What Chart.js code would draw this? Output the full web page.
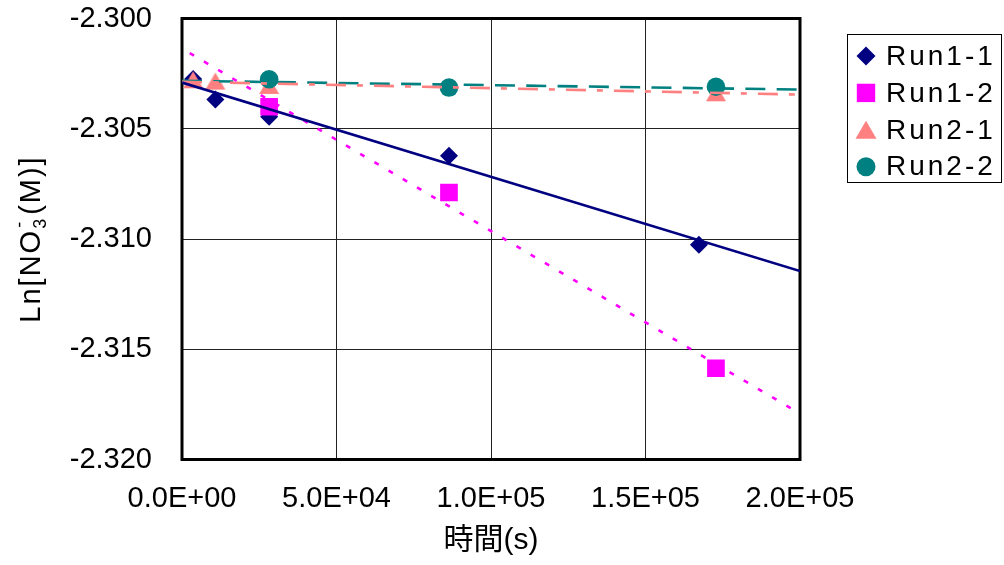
<!DOCTYPE html>
<html><head><meta charset="utf-8">
<script src="https://cdn.jsdelivr.net/npm/chart.js@4"></script>
<style>html,body{margin:0;padding:0;background:#fff}#wrap{width:1004px;height:565px}</style>
</head><body><div id="wrap"><canvas id="c" width="1004" height="565"></canvas></div>
<script>
// ---- data ----
const seriesNames = ['Run1-1', 'Run1-2', 'Run2-1', 'Run2-2'];
const run11Time = [3600, 10800, 28200, 86400, 167300];
const run11Ln   = [-2.302747, -2.303676, -2.304456, -2.306224, -2.310258];
const run12Time = [28200, 86400, 172800];
const run12Ln   = [-2.304003, -2.307892, -2.315861];
const run21Time = [3600, 10800, 28200, 172800];
const run21Ln   = [-2.302779, -2.302838, -2.303033, -2.303368];
const run22Time = [28200, 86400, 172800];
const run22Ln   = [-2.302756, -2.303132, -2.303096];
// trend lines (start / end)
const trend11Time = [0, 200000];
const trend11Ln   = [-2.302906, -2.311451];
const trend12Time = [2500, 200000];
const trend12Ln   = [-2.301568, -2.317920];
const trend21Time = [0, 200000];
const trend21Ln   = [-2.302869, -2.303450];
const trend22Time = [0, 200000];
const trend22Ln   = [-2.302824, -2.303223];
// ticks
const xTickValues = [0, 50000, 100000, 150000, 200000];
const xTickLabels = ['0.0E+00', '5.0E+04', '1.0E+05', '1.5E+05', '2.0E+05'];
const yTickValues = [-2.320, -2.315, -2.310, -2.305, -2.300];
const yTickLabels = ['-2.320', '-2.315', '-2.310', '-2.305', '-2.300'];
const xTitle = '時間(s)';

// ---- styles ----
const colors = ['#000080', '#FF00FF', '#FF8080', '#008080'];
const radii  = [9, 12.5, 11, 9.3];
const trendDash = [[], [5, 11.5], [20, 11, 6, 11], [20, 11.3]];
const FONT = "'Liberation Sans', Arial, sans-serif";

// triangle marker centred on its bounding box (as in the reference)
function triangleImage(color, w, h) {
  const c = document.createElement('canvas');
  c.width = Math.ceil(w) + 2; c.height = Math.ceil(h) + 2;
  const g = c.getContext('2d');
  const cx = c.width / 2, cy = c.height / 2;
  g.fillStyle = color;
  g.beginPath();
  g.moveTo(cx, cy - h / 2); g.lineTo(cx + w / 2, cy + h / 2); g.lineTo(cx - w / 2, cy + h / 2);
  g.closePath(); g.fill();
  return c;
}
const shapes = ['rectRot', 'rect', triangleImage(colors[2], 20, 17), 'circle'];

function pts(xs, ys) { return xs.map((x, i) => ({ x: x, y: ys[i] })); }

const markerSets = [
  pts(run11Time, run11Ln), pts(run12Time, run12Ln),
  pts(run21Time, run21Ln), pts(run22Time, run22Ln)
];
const trendSets = [
  pts(trend11Time, trend11Ln), pts(trend12Time, trend12Ln),
  pts(trend21Time, trend21Ln), pts(trend22Time, trend22Ln)
];

const datasets = [];
for (let i = 0; i < 4; i++) {
  datasets.push({
    label: seriesNames[i] + ' trend', data: trendSets[i], showLine: true,
    borderColor: colors[i], borderWidth: 2.6, borderDash: trendDash[i],
    pointRadius: 0, pointHoverRadius: 0, fill: false, order: 0
  });
}
for (let i = 0; i < 4; i++) {
  datasets.push({
    label: seriesNames[i], data: markerSets[i], showLine: false,
    pointStyle: shapes[i], pointRadius: radii[i], pointHoverRadius: radii[i],
    backgroundColor: colors[i], borderColor: colors[i], borderWidth: 0,
    order: 4 - i
  });
}

function drawMarker(ctx, style, x, y, r, color) {
  ctx.save();
  ctx.fillStyle = color;
  ctx.beginPath();
  if (style === 'rectRot') {
    ctx.moveTo(x, y - r); ctx.lineTo(x + r, y); ctx.lineTo(x, y + r); ctx.lineTo(x - r, y);
  } else if (style === 'rect') {
    const h = r * Math.SQRT1_2; ctx.rect(x - h, y - h, 2 * h, 2 * h);
  } else if (style === 'circle') {
    ctx.arc(x, y, r, 0, Math.PI * 2);
  } else {
    ctx.moveTo(x, y - 9); ctx.lineTo(x + 10.5, y + 9); ctx.lineTo(x - 10.5, y + 9);
  }
  ctx.closePath(); ctx.fill();
  ctx.restore();
}

const decorPlugin = {
  id: 'decor',
  beforeDatasetsDraw(chart) {
    const { ctx, chartArea: a } = chart;
    ctx.save();
    ctx.strokeStyle = '#000'; ctx.lineWidth = 3;
    ctx.strokeRect(a.left, a.top, a.right - a.left, a.bottom - a.top);
    ctx.restore();
  },
  afterDraw(chart) {
    const { ctx, chartArea: a } = chart;
    // x title
    ctx.save();
    ctx.fillStyle = '#000';
    ctx.font = "30px 'Liberation Sans', 'Noto Sans CJK JP', sans-serif";
    ctx.textAlign = 'center'; ctx.textBaseline = 'middle';
    ctx.fillText(xTitle, (a.left + a.right) / 2, 541);
    ctx.restore();
    // y title with subscript / superscript
    ctx.save();
    ctx.translate(30, (a.top + a.bottom) / 2);
    ctx.rotate(-Math.PI / 2);
    ctx.fillStyle = '#000';
    ctx.textBaseline = 'alphabetic';
    ctx.letterSpacing = '2px';
    const big = '29px ' + FONT, small = '18px ' + FONT;
    const texts = ['Ln[NO', '3', '-', '(M)]'];
    const fonts = [big, small, small, big];
    const widths = texts.map((t, i) => { ctx.font = fonts[i]; return ctx.measureText(t).width; });
    const total = widths[0] + Math.max(widths[1], widths[2]) + 2 + widths[3];
    let x = -total / 2;
    const base = 10;
    ctx.font = big; ctx.fillText(texts[0], x, base); x += widths[0];
    ctx.font = small; ctx.fillText(texts[1], x, base + 6);
    ctx.fillText(texts[2], x + 1, base - 15);
    x += Math.max(widths[1], widths[2]) + 2;
    ctx.font = big; ctx.fillText(texts[3], x, base);
    ctx.restore();
    // legend
    ctx.save();
    ctx.strokeStyle = '#000'; ctx.lineWidth = 1;
    ctx.strokeRect(847.5, 34.5, 154, 148);
    ctx.font = '28px ' + FONT;
    ctx.letterSpacing = '3px';
    ctx.textAlign = 'left'; ctx.textBaseline = 'middle';
    for (let i = 0; i < 4; i++) {
      const ds = chart.data.datasets.find(d => d.label === seriesNames[i]);
      const yy = 56 + i * 36.9;
      const st = typeof ds.pointStyle === 'string' ? ds.pointStyle : 'triangle';
      const r = st === 'rect' ? 13 : 9.5;
      drawMarker(ctx, st, 866, yy, r, ds.backgroundColor);
      ctx.fillStyle = '#000';
      ctx.fillText(ds.label, 886, yy + 1);
    }
    ctx.restore();
  }
};

function nearestLabel(values, labels, v) {
  let best = 0;
  for (let i = 1; i < values.length; i++) if (Math.abs(values[i] - v) < Math.abs(values[best] - v)) best = i;
  return labels[best];
}

new Chart(document.getElementById('c'), {
  type: 'scatter',
  data: { datasets: datasets },
  options: {
    responsive: false, animation: false, devicePixelRatio: 1,
    layout: { padding: { top: 18.5, right: 204, left: 0, bottom: 0 } },
    plugins: { legend: { display: false }, tooltip: { enabled: false } },
    scales: {
      x: {
        type: 'linear', min: 0, max: 200000,
        afterBuildTicks: s => { s.ticks = xTickValues.map(v => ({ value: v })); },
        afterFit: s => { s.height = 105.5; s.paddingLeft = 0; s.paddingRight = 0; },
        grid: { color: '#222', lineWidth: 1, drawTicks: false },
        border: { display: false },
        ticks: {
          padding: 22, color: '#000', maxRotation: 0, autoSkip: false,
          font: { family: FONT, size: 29 },
          callback: v => nearestLabel(xTickValues, xTickLabels, v)
        }
      },
      y: {
        type: 'linear', min: -2.320, max: -2.300,
        afterBuildTicks: s => { s.ticks = yTickValues.map(v => ({ value: v })); },
        afterFit: s => { s.width = 182; s.paddingTop = 0; s.paddingBottom = 0; },
        grid: { color: '#222', lineWidth: 1, drawTicks: false },
        border: { display: false },
        ticks: {
          padding: 30, color: '#000', autoSkip: false,
          font: { family: FONT, size: 29 },
          callback: v => nearestLabel(yTickValues, yTickLabels, v)
        }
      }
    }
  },
  plugins: [decorPlugin]
});
</script>
</body></html>
